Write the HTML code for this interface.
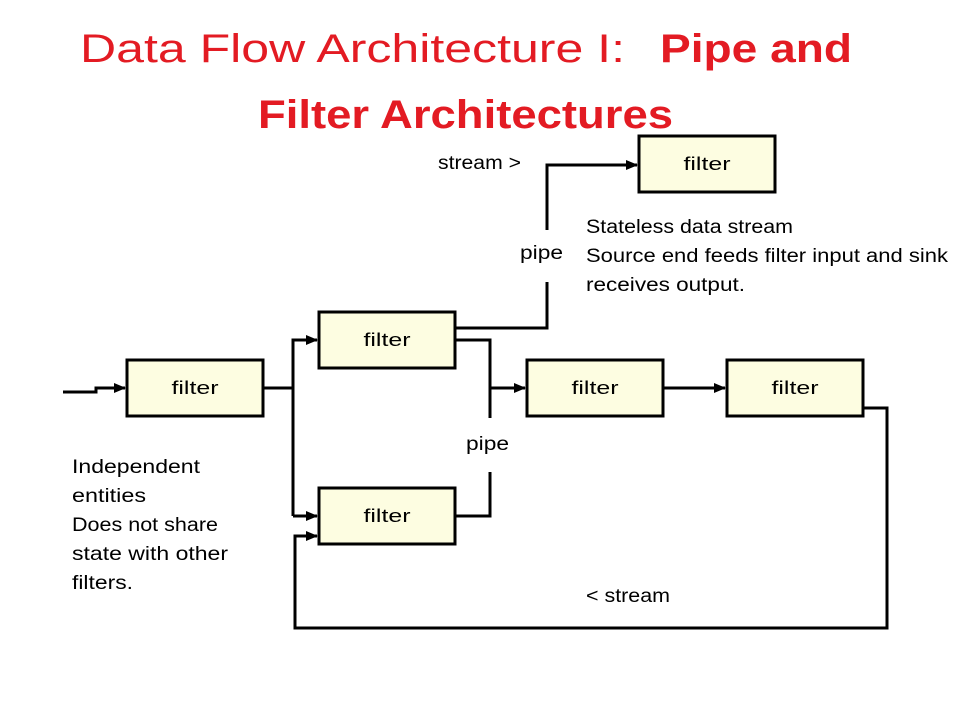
<!DOCTYPE html>
<html><head><meta charset="utf-8"><style>
body{margin:0;background:#fff;}
svg{display:block;font-family:"Liberation Sans",sans-serif;}
</style></head><body>
<svg width="960" height="720" viewBox="0 0 960 720" xmlns="http://www.w3.org/2000/svg">
<defs><marker id="a" markerWidth="12" markerHeight="10" refX="11" refY="5" orient="auto" markerUnits="userSpaceOnUse"><path d="M0,0 L12,5 L0,10 z" fill="#000"/></marker></defs>
<text x="80" y="62" font-size="40" fill="#e31b23" textLength="545" lengthAdjust="spacingAndGlyphs">Data Flow Architecture  I:</text>
<text x="660" y="62" font-size="40" font-weight="bold" fill="#e31b23" textLength="192" lengthAdjust="spacingAndGlyphs">Pipe and</text>
<text x="258" y="128" font-size="40" font-weight="bold" fill="#e31b23" textLength="415" lengthAdjust="spacingAndGlyphs">Filter Architectures</text>
<g fill="#fdfde1" stroke="#000" stroke-width="3">
<rect x="127" y="360" width="136" height="56"/>
<rect x="319" y="312" width="136" height="56"/>
<rect x="319" y="488" width="136" height="56"/>
<rect x="527" y="360" width="136" height="56"/>
<rect x="727" y="360" width="136" height="56"/>
<rect x="639" y="136" width="136" height="56"/>
</g>
<g font-size="18" text-anchor="middle" fill="#000">
<text x="387" y="394" textLength="47" lengthAdjust="spacingAndGlyphs" transform="translate(-192,0)">filter</text>
<text x="387" y="346" textLength="47" lengthAdjust="spacingAndGlyphs">filter</text>
<text x="387" y="522" textLength="47" lengthAdjust="spacingAndGlyphs">filter</text>
<text x="595" y="394" textLength="47" lengthAdjust="spacingAndGlyphs">filter</text>
<text x="795" y="394" textLength="47" lengthAdjust="spacingAndGlyphs">filter</text>
<text x="707" y="170" textLength="47" lengthAdjust="spacingAndGlyphs">filter</text>
</g>
<g fill="none" stroke="#000" stroke-width="3">
<path d="M63,392 H96 V388 H125" marker-end="url(#a)"/>
<path d="M263,388 H293"/>
<path d="M293,516 V340 H317" marker-end="url(#a)"/>
<path d="M293,516 H317" marker-end="url(#a)"/>
<path d="M455,328 H547 V282"/>
<path d="M547,230 V165 H637" marker-end="url(#a)"/>
<path d="M455,340 H490 V418"/>
<path d="M490,472 V516 H455"/>
<path d="M490,388 H525" marker-end="url(#a)"/>
<path d="M663,388 H725" marker-end="url(#a)"/>
<path d="M863,408 H887 V628 H295 V536 H317" marker-end="url(#a)"/>
</g>
<g font-size="19" fill="#000" lengthAdjust="spacingAndGlyphs">
<text x="438" y="169" textLength="83" lengthAdjust="spacingAndGlyphs">stream &gt;</text>
<text x="520" y="259" textLength="43" lengthAdjust="spacingAndGlyphs">pipe</text>
<text x="586" y="233" textLength="207" lengthAdjust="spacingAndGlyphs">Stateless data stream</text>
<text x="586" y="262" textLength="362" lengthAdjust="spacingAndGlyphs">Source end feeds filter input and sink</text>
<text x="586" y="291" textLength="159" lengthAdjust="spacingAndGlyphs">receives output.</text>
<text x="466" y="450" textLength="43" lengthAdjust="spacingAndGlyphs">pipe</text>
<text x="72" y="473" textLength="128" lengthAdjust="spacingAndGlyphs">Independent</text>
<text x="72" y="502" textLength="74" lengthAdjust="spacingAndGlyphs">entities</text>
<text x="72" y="531" textLength="146" lengthAdjust="spacingAndGlyphs">Does not share</text>
<text x="72" y="560" textLength="156" lengthAdjust="spacingAndGlyphs">state with other</text>
<text x="72" y="589" textLength="61" lengthAdjust="spacingAndGlyphs">filters.</text>
<text x="586" y="602" textLength="84" lengthAdjust="spacingAndGlyphs">&lt; stream</text>
</g>
</svg>
</body></html>
